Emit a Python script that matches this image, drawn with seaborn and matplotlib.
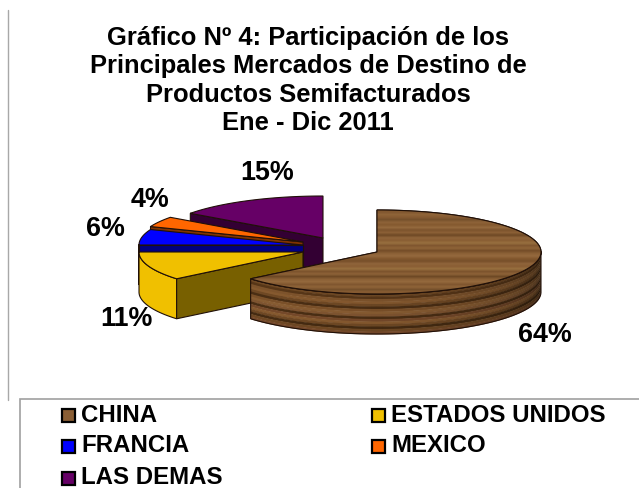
import numpy as np
import matplotlib
matplotlib.use("Agg")
import matplotlib.pyplot as plt
import seaborn as sns
from matplotlib.colors import to_rgb
from matplotlib.patches import Polygon, Rectangle

categories = ["CHINA", "ESTADOS UNIDOS", "FRANCIA", "MEXICO", "LAS DEMAS"]
shares = [64, 11, 6, 4, 15]
top_colors = ["#8a5e34", "#f0c000", "#0000ff", "#ff6600", "#660066"]
side_colors = ["#6e4824", "#786000", "#000080", "#803300", "#330033"]
# wood grain shades, top to bottom
top_grain = ["#8a5e34", "#80562f", "#8f6438", "#875b32", "#75502b", "#8e6338", "#84592f", "#94693d",
             "#7d542d", "#8b6036", "#6e4925", "#8f643a", "#8a5e34", "#98703f", "#80562f", "#8f6438",
             "#744d28", "#8b6036", "#95693e", "#84592f", "#774f2a", "#8f643a", "#8a5e34", "#98703f",
             "#7d542d", "#8d6238", "#6e4925", "#8b6036", "#94693d", "#80562f", "#8f6438", "#75502b",
             "#8a5e34", "#6a4622"]
side_grain = ["#6e4824", "#573618", "#7d532c", "#85592f", "#6e4824", "#4a2e14", "#7a5029", "#875c32",
              "#7e5430", "#4a2e14", "#75492a", "#85592f", "#6e4824", "#452b12", "#6e4824", "#75492a"]
title_lines = ["Gráfico Nº 4: Participación de los", "Principales Mercados de Destino de",
               "Productos Semifacturados", "Ene - Dic 2011"]

# where each slice sits once exploded (pixels)
centers = [(377, 252), (303, 252), (303, 245), (303, 242), (323, 238)]
rx, ry, depth = 164, 42, 40

sns.set_theme(style="white")
plt.rcParams["font.family"] = ["Liberation Sans", "DejaVu Sans"]
palette = sns.color_palette(top_colors)

fig = plt.figure(figsize=(6.39, 4.88), dpi=100)
ax = fig.add_axes([0, 0, 1, 1])
ax.set_xlim(0, 639)
ax.set_ylim(488, 0)
ax.axis("off")


def rim(cx, cy, a0, a1):
    t = np.radians(np.linspace(a0, a1, 120))
    return cx + rx * np.sin(t), cy - ry * np.cos(t), t


# page frame lines
ax.plot([8, 8], [10, 400], color="#a8a8a8", lw=1)
ax.add_patch(Rectangle((20, 399), 630, 100, fc="white", ec="#a0a0a0", lw=1.2))

angles = np.cumsum([0] + shares) * 3.6
edge = "#201008"
# back slices first, china last
for i in [4, 3, 2, 1, 0]:
    cx, cy = centers[i]
    a0, a1 = angles[i], angles[i + 1]
    x, y, t = rim(cx, cy, a0, a1)
    z = 5 + (4 - i)

    # outer wall, only where the rim faces the viewer
    keep = np.cos(t) <= 0.02
    xs, ys = x[keep], y[keep]
    if i == 0:
        h = depth / len(side_grain)
        for k, shade in enumerate(side_grain):
            band = np.r_[np.c_[xs, ys + k * h], np.c_[xs, ys + (k + 1) * h + .5][::-1]]
            ax.add_patch(Polygon(band, fc=shade, ec="none", zorder=z))
        # wall gets darker towards the right end
        for j in range(0, len(xs) - 2, 2):
            strip = np.r_[np.c_[xs[j:j + 3], ys[j:j + 3]], np.c_[xs[j:j + 3], ys[j:j + 3] + depth][::-1]]
            ax.add_patch(Polygon(strip, fc="black", ec="none", alpha=0.5 * (1 - j / len(xs)) ** 3, zorder=z + 0.1))
        ax.add_patch(Polygon(np.r_[np.c_[xs, ys], np.c_[xs, ys + depth][::-1]],
                             fc="none", ec=edge, lw=0.8, zorder=z + 0.2))
    else:
        if len(xs) > 1:
            ax.add_patch(Polygon(np.r_[np.c_[xs, ys], np.c_[xs, ys + depth][::-1]],
                                 fc=top_colors[i] if i != 2 else side_colors[i], ec=edge, lw=0.8, zorder=z))
        # cut wall seen from the front left
        ex, ey, _ = rim(cx, cy, a0, a0)
        ax.add_patch(Polygon([(cx, cy), (ex[0], ey[0]), (ex[0], ey[0] + depth), (cx, cy + depth)],
                             fc=side_colors[i], ec=edge, lw=0.8, zorder=z))

    # top face
    top = Polygon(np.r_[[(cx, cy)], np.c_[x, y]], fc=palette[i], ec=edge, lw=0.8, zorder=z + 0.5)
    ax.add_patch(top)
    if i == 0:
        img = np.array([[to_rgb(s)] for s in top_grain])
        im = ax.imshow(img, extent=(cx - rx - 5, cx + rx + 5, cy + ry + 2, cy - ry - 2),
                       aspect="auto", interpolation="bilinear", zorder=z + 0.6)
        im.set_clip_path(top)
        ax.add_patch(Polygon(top.get_xy(), fc="none", ec=edge, lw=0.8, zorder=z + 0.7))
ax.set_xlim(0, 639)
ax.set_ylim(488, 0)

# title
for line, ypos in zip(title_lines, [38.5, 66, 94.5, 123]):
    ax.text(308, ypos, line, ha="center", va="center", fontsize=18.4, fontweight="bold", color="black")

# data labels
label_pos = [(545, 335), (126, 319), (105, 229), (150, 200), (267, 173)]
for share, (lx, ly) in zip(shares, label_pos):
    ax.text(lx, ly, f"{share}%", ha="center", va="center", fontsize=19.4, fontweight="bold", color="black", zorder=20)

# legend
legend_pos = [(62, 415), (372, 415), (62, 446), (372, 446), (62, 478)]
for name, color, (lx, ly) in zip(categories, palette, legend_pos):
    ax.add_patch(Rectangle((lx, ly - 6.5), 13, 13, fc=color, ec="black", lw=1.6, zorder=20))
    ax.text(lx + 19, ly, name, ha="left", va="center", fontsize=17.3, fontweight="bold", color="black", zorder=20)

fig.savefig("out.png", dpi=100)
